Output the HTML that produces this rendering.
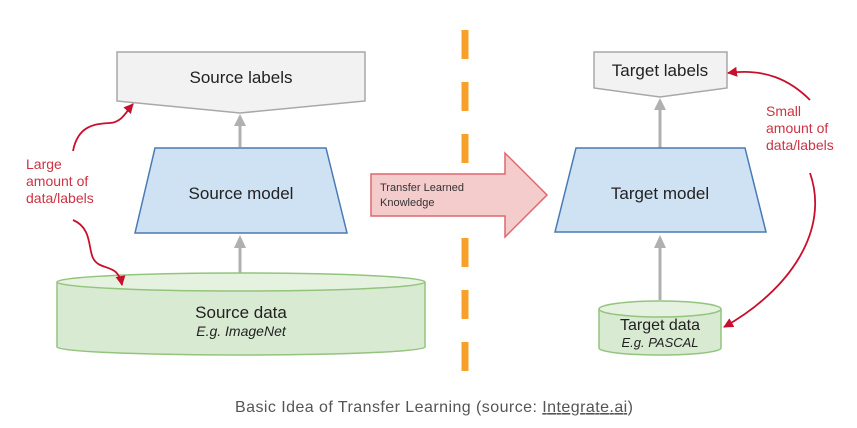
<!DOCTYPE html>
<html><head><meta charset="utf-8"><style>
html,body{margin:0;padding:0;background:#fff;}
svg{display:block}
</style></head><body>
<svg width="857" height="428" viewBox="0 0 857 428" xmlns="http://www.w3.org/2000/svg" font-family="Liberation Sans, DejaVu Sans, sans-serif">
<defs>
<marker id="ra" markerWidth="10" markerHeight="10" refX="9" refY="5" orient="auto" markerUnits="userSpaceOnUse"><path d="M0,0 L10,5 L0,10 z" fill="#c8102e"/></marker>
</defs>
<line x1="465" y1="30" x2="465" y2="380" stroke="#f7a12b" stroke-width="7" stroke-dasharray="29 23"/>
<path d="M117,52 L365,52 L365,101 L240,113 L117,101 Z" fill="#f2f2f2" stroke="#a8a8a8" stroke-width="1.5"/>
<text x="241" y="83" font-size="17" text-anchor="middle" fill="#222">Source labels</text>
<line x1="240" y1="147" x2="240" y2="124" stroke="#b0b0b0" stroke-width="3"/>
<path d="M234,126 L240,114 L246,126 Z" fill="#b0b0b0"/>
<path d="M155,148 L326,148 L347,233 L135,233 Z" fill="#cfe2f3" stroke="#4a7ab5" stroke-width="1.5"/>
<text x="241" y="199" font-size="17" text-anchor="middle" fill="#222">Source model</text>
<line x1="240" y1="273" x2="240" y2="246" stroke="#b0b0b0" stroke-width="3"/>
<path d="M234,248 L240,235 L246,248 Z" fill="#b0b0b0"/>
<path d="M57,282 L57,347 A184,8 0 0 0 425,347 L425,282" fill="#d9ead3" stroke="#93c47d" stroke-width="1.5"/>
<ellipse cx="241" cy="282" rx="184" ry="9" fill="#e6f2e0" stroke="#93c47d" stroke-width="1.5"/>
<text x="241" y="318" font-size="17" text-anchor="middle" fill="#222">Source data</text>
<text x="241" y="336" font-size="14" font-style="italic" text-anchor="middle" fill="#222">E.g. ImageNet</text>
<g fill="#cc3344" font-size="14">
<text x="26" y="169">Large</text>
<text x="26" y="186">amount of</text>
<text x="26" y="203">data/labels</text>
</g>
<path d="M73,151 C78,125 95,124 110,123 C122,122 126,112 133,104" fill="none" stroke="#c8102e" stroke-width="1.8" marker-end="url(#ra)"/>
<path d="M73,220 C92,228 88,248 93,258 C100,272 118,262 122,285" fill="none" stroke="#c8102e" stroke-width="1.8" marker-end="url(#ra)"/>
<path d="M371,174 L505,174 L505,153 L547,195 L505,237 L505,216 L371,216 Z" fill="#f4cccc" stroke="#e06670" stroke-width="1.5"/>
<text x="380" y="191" font-size="11" fill="#333">Transfer Learned</text>
<text x="380" y="206" font-size="11" fill="#333">Knowledge</text>
<path d="M594,52 L727,52 L727,88 L660,97 L594,88 Z" fill="#f2f2f2" stroke="#a8a8a8" stroke-width="1.5"/>
<text x="660" y="76" font-size="17" text-anchor="middle" fill="#222">Target labels</text>
<line x1="660" y1="148" x2="660" y2="108" stroke="#b0b0b0" stroke-width="3"/>
<path d="M654,110 L660,98 L666,110 Z" fill="#b0b0b0"/>
<path d="M576,148 L745,148 L766,232 L555,232 Z" fill="#cfe2f3" stroke="#4a7ab5" stroke-width="1.5"/>
<text x="660" y="199" font-size="17" text-anchor="middle" fill="#222">Target model</text>
<line x1="660" y1="300" x2="660" y2="246" stroke="#b0b0b0" stroke-width="3"/>
<path d="M654,248 L660,235 L666,248 Z" fill="#b0b0b0"/>
<path d="M599,309 L599,348 A61,7 0 0 0 721,348 L721,309" fill="#d9ead3" stroke="#93c47d" stroke-width="1.5"/>
<ellipse cx="660" cy="309" rx="61" ry="8" fill="#e6f2e0" stroke="#93c47d" stroke-width="1.5"/>
<text x="660" y="330" font-size="16" text-anchor="middle" fill="#222">Target data</text>
<text x="660" y="347" font-size="13" font-style="italic" text-anchor="middle" fill="#222">E.g. PASCAL</text>
<g fill="#cc3344" font-size="14">
<text x="766" y="116">Small</text>
<text x="766" y="133">amount of</text>
<text x="766" y="150">data/labels</text>
</g>
<path d="M810,100 C790,80 765,68 728,73" fill="none" stroke="#c8102e" stroke-width="1.8" marker-end="url(#ra)"/>
<path d="M810,173 C830,230 790,290 724,327" fill="none" stroke="#c8102e" stroke-width="1.8" marker-end="url(#ra)"/>
<text x="434" y="412" font-size="16" textLength="398" lengthAdjust="spacing" text-anchor="middle" fill="#555">Basic Idea of Transfer Learning (source: <tspan text-decoration="underline">Integrate.ai</tspan>)</text>
</svg>
</body></html>
